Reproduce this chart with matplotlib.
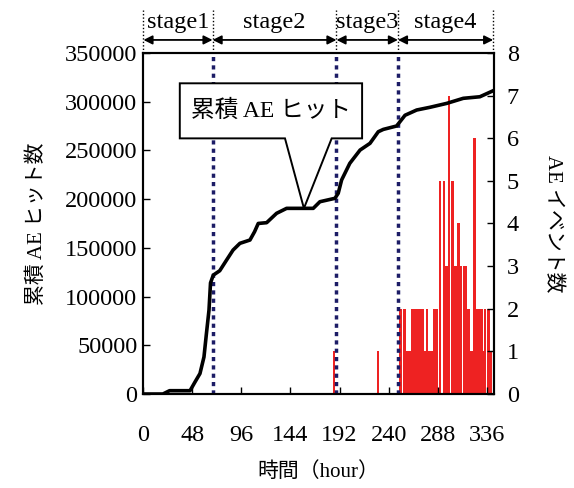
import numpy as np
import matplotlib
matplotlib.use("Agg")
import matplotlib.pyplot as plt
import matplotlib.transforms as mtransforms
from matplotlib.patches import Polygon

plt.rcParams['font.family'] = ['Liberation Serif', 'Noto Sans CJK JP', 'DejaVu Sans']

# cumulative AE hits
hit_hours = [0, 19.5, 26, 46, 51, 55.7, 59.6, 62, 64.5, 66, 68.7, 75, 81.7, 88,
             94.7, 104.5, 109, 112.6, 120.8, 130.5, 140.3, 166.3, 172.8, 187.5,
             190.7, 194, 202, 212, 221.7, 229.8, 234.7, 247.7, 255.9, 267.3,
             280.3, 296.6, 312.8, 329, 342]
hit_values = [0, 0, 3400, 3400, 12600, 21000, 38000, 62000, 86000, 114000,
              122000, 126500, 137500, 147700, 154600, 158000, 166500, 175000,
              175800, 185400, 190500, 190500, 197300, 200800, 206000, 219600,
              236700, 250300, 257200, 269100, 271500, 275000, 286000, 291400,
              294200, 298200, 303400, 305000, 311200]

# AE event counts
event_hours = [186.5, 229.7, 251.5, 255.6, 258.5, 261, 263.3, 265.7, 268.1,
               270.3, 272.8, 275.1, 277.3, 279.6, 282, 284.3, 286.7, 290.3,
               294, 296.4, 298.6, 302.3, 304.8, 306.6, 308.3, 310.6, 313.4,
               315.7, 318.1, 320.4, 322.2, 323.7, 325.6, 327.6, 329.5, 330.6,
               332.6, 334.1, 337.2, 339.6]
event_counts = [1, 1, 2, 2, 1, 1, 2, 2, 2, 2, 2, 1, 2, 1, 1, 2, 2, 5, 5, 3, 7,
                5, 3, 3, 4, 3, 3, 3, 2, 1, 1, 6, 2, 2, 1, 2, 1, 2, 2, 1]

stage_names = ['stage1', 'stage2', 'stage3', 'stage4']
stage_edges = [0.5, 68, 189, 249, 342]

x_ticks = [0, 48, 96, 144, 192, 240, 288, 336]
left_ticks = np.arange(0, 350001, 50000)
right_ticks = np.arange(0, 9, 1)

fig = plt.figure(figsize=(5.74, 4.88), dpi=100)
ax = fig.add_axes([0.249, 0.1926, 0.612, 0.699])
ax2 = ax.twinx()

ax2.bar(event_hours, event_counts, width=2.4, color='#ee2222', linewidth=0)
ax2.set_ylim(0, 8)
ax2.set_yticks(right_ticks)

ax.set_zorder(ax2.get_zorder() + 1)
ax.patch.set_visible(False)

for e in stage_edges[1:-1]:
    ax.axvline(e, color='#1c1c66', lw=2.5, linestyle=(0, (1.2, 1.2)), zorder=2)

ax.plot(hit_hours, hit_values, color='black', lw=2.6, zorder=3)
ax.set_xlim(0, 343)
ax.set_ylim(0, 350000)
ax.set_xticks(x_ticks)
ax.set_yticks(left_ticks)

fs = 17.5
for a in (ax, ax2):
    a.tick_params(direction='in', length=5, width=1, labelsize=fs)
    for s in a.spines.values():
        s.set_linewidth(1.5)
ax.tick_params(axis='x', pad=22)
ax.tick_params(axis='y', pad=4)
ax2.tick_params(axis='y', pad=9)

ax.set_xlabel('時間（hour）', fontsize=15, labelpad=12)
ax.set_ylabel('累積 AE ヒット数', fontsize=15, labelpad=13)
ax2.set_ylabel('AE イベント数', fontsize=15, rotation=-90, labelpad=31)

# callout box
box = Polygon([(36, 318800), (214, 318800), (214, 262300), (184.3, 262300),
               (157.2, 190500), (138.7, 262300), (36, 262300)],
              closed=True, facecolor='white', edgecolor='black', lw=1.4,
              zorder=4)
ax.add_patch(box)
ax.text(125, 290500, '累積 AE ヒット', fontsize=17, ha='center', va='center',
        zorder=5)

# stage markers above the plot
trans = mtransforms.blended_transform_factory(ax.transData, ax.transAxes)
for e in stage_edges:
    ax.plot([e, e], [1.0, 1.125], transform=trans, color='black', lw=1,
            linestyle=(0, (1, 1.5)), clip_on=False)
for i, name in enumerate(stage_names):
    a0, a1 = stage_edges[i], stage_edges[i + 1]
    ax.annotate('', xy=(a1, 1.038), xytext=(a0, 1.038), xycoords=trans,
                textcoords=trans,
                arrowprops=dict(arrowstyle='<|-|>', color='black', lw=1.3,
                                mutation_scale=13, shrinkA=0, shrinkB=0))
    ax.text((a0 + a1) / 2, 1.088, name, transform=trans, fontsize=fs,
            ha='center', va='center')

fig.savefig('out.png', dpi=100)
